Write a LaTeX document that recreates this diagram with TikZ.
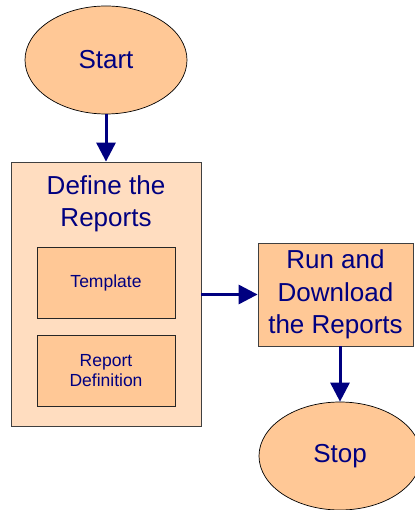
\documentclass[tikz,border=0pt]{standalone}
\usepackage{fontspec}
\setmainfont{Liberation Sans}
\usetikzlibrary{shapes.geometric,arrows.meta}
\definecolor{peach}{RGB}{255,200,150}
\definecolor{lightpeach}{RGB}{255,221,192}
\definecolor{navytext}{RGB}{0,0,128}
\tikzset{
  term/.style={ellipse, draw=black, line width=0.7pt, fill=peach, minimum width=162pt, minimum height=108pt, inner sep=0pt, text=navytext, font=\fontsize{26}{32}\selectfont},
  bigbox/.style={rectangle, draw=black!75, line width=0.8pt, inner sep=0pt},
  smallbox/.style={rectangle, draw=black!85, line width=0.7pt, fill=peach, minimum width=138pt, minimum height=71pt, inner sep=0pt, text=navytext, align=center, font=\fontsize{17.5}{20}\selectfont},
  bigtext/.style={text=navytext, align=center, font=\fontsize{26}{32.5}\selectfont, inner sep=0pt},
  flow/.style={draw=navytext, line width=3pt, -{Triangle[length=19pt,width=19pt]}}
}
\begin{document}
\begin{tikzpicture}[x=1pt,y=-1pt]
\useasboundingbox (0,0) rectangle (414,510);
\node[term] (start) at (106,60) {Start};
\node[bigbox, fill=lightpeach, minimum width=190pt, minimum height=264pt] (define) at (106,294) {};
\node[bigtext] (definetitle) at (106,204) {Define the\\Reports};
\node[smallbox] (template) at (106,282.5) {Template};
\node[smallbox] (repdef) at (106,371) {Report\\Definition};
\node[bigbox, fill=peach, minimum width=155pt, minimum height=103pt, bigtext] (run) at (335.5,294.5) {Run and\\Download\\the Reports};
\node[term] (stop) at (340,456) {Stop};
\draw[flow] (start.south) -- (define.north);
\draw[flow] (define.east |- run.west) -- (run.west);
\draw[flow] (run.south -| stop.north) -- (stop.north);
\end{tikzpicture}
\end{document}
